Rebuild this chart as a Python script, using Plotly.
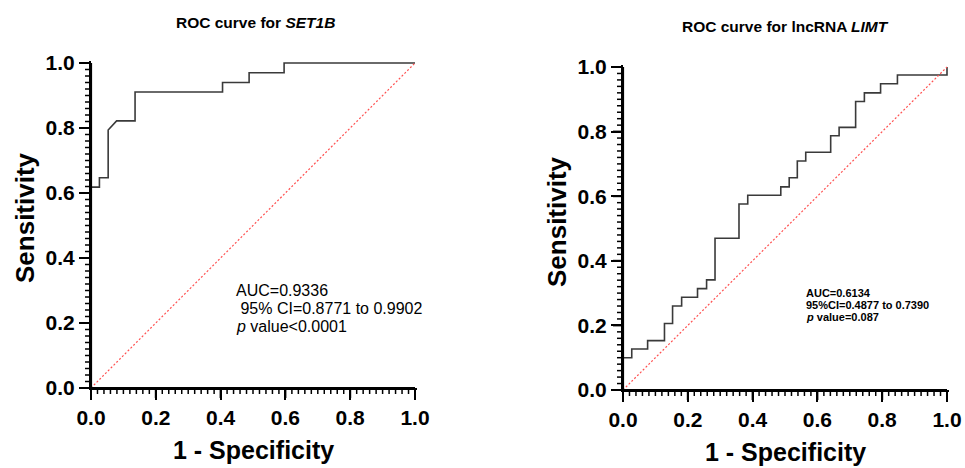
import plotly.graph_objects as go

# ---- data ----
set1b_fpr = [0, 0, 0.026, 0.026, 0.053, 0.053, 0.079, 0.136, 0.136, 0.406, 0.406, 0.488, 0.488, 0.596, 0.596, 1.0]
set1b_sens = [0, 0.618, 0.618, 0.647, 0.647, 0.794, 0.822, 0.822, 0.911, 0.911, 0.940, 0.940, 0.970, 0.970, 1.0, 1.0]

limt_step_fpr = [0, 0.027, 0.076, 0.128, 0.153, 0.181, 0.230, 0.258, 0.284, 0.358, 0.385, 0.487, 0.513,
                 0.538, 0.564, 0.641, 0.667, 0.718, 0.745, 0.795, 0.847, 1.0]
limt_step_sens = [0.100, 0.127, 0.153, 0.206, 0.260, 0.287, 0.314, 0.341, 0.470, 0.576, 0.603, 0.629, 0.657,
                  0.709, 0.736, 0.787, 0.813, 0.893, 0.920, 0.948, 0.975, 1.0]

ref_line = [0, 1]
tick_vals = [0, 0.2, 0.4, 0.6, 0.8, 1.0]
tick_text = ["0.0", "0.2", "0.4", "0.6", "0.8", "1.0"]
minor_step = 0.02

titles = ["ROC curve for <i>SET1B</i>", "ROC curve for lncRNA <i>LIMT</i>"]
left_stats = ["AUC=0.9336", " 95% CI=0.8771 to 0.9902", "<i>p</i> value<0.0001"]
right_stats = ["<b>AUC=0.6134</b>", "<b>95%CI=0.4877 to 0.7390</b>", "<b><i>p</i> value=0.087</b>"]

W, H = 965, 468
FONT = "Liberation Sans"
RANGE = [0, 1.006]


def px(x):
    return x / W


def py(y):
    return 1 - y / H


def frac(v):
    # position of an axis value as a fraction of the axis domain
    return (v - RANGE[0]) / (RANGE[1] - RANGE[0])


minor_vals = [round(i * minor_step, 4) for i in range(int(round(1 / minor_step)) + 1)]
minor_vals = [v for v in minor_vals if all(abs(v - t) > 1e-9 for t in tick_vals)]

fig = go.Figure()

diag_style = dict(color="#ff5050", width=1.2, dash="2px,2px")

# left panel
fig.add_trace(go.Scatter(x=set1b_fpr, y=set1b_sens, mode="lines",
                         line=dict(color="#3a3a3a", width=1.6), xaxis="x", yaxis="y", showlegend=False))
fig.add_trace(go.Scatter(x=ref_line, y=ref_line, mode="lines", line=diag_style,
                         xaxis="x", yaxis="y", showlegend=False))
# right panel
fig.add_trace(go.Scatter(x=[0] + limt_step_fpr, y=[0] + limt_step_sens, mode="lines",
                         line=dict(color="#3a3a3a", width=1.6, shape="hv"),
                         xaxis="x2", yaxis="y2", showlegend=False))
fig.add_trace(go.Scatter(x=ref_line, y=ref_line, mode="lines", line=diag_style,
                         xaxis="x2", yaxis="y2", showlegend=False))

ax_major = dict(
    range=RANGE, tickmode="array", tickvals=tick_vals, ticktext=tick_text,
    showline=True, linecolor="black", linewidth=2, showgrid=False, zeroline=False,
    ticks="outside", ticklen=10, tickwidth=2, tickcolor="black",
    tickfont=dict(family=FONT, size=21, color="black", weight="bold"),
    fixedrange=True,
)

# domains from pixel positions
lx0, lx1 = 91, 91 + 324 * RANGE[1]
ly0, ly1 = 388, 388 - 325 * RANGE[1]
rx0, rx1 = 623, 623 + 324 * RANGE[1]
ry0, ry1 = 390, 390 - 323 * RANGE[1]

fig.update_layout(
    width=W, height=H, margin=dict(l=0, r=0, t=0, b=0, autoexpand=False),
    paper_bgcolor="white", plot_bgcolor="white",
    xaxis=dict(domain=[px(lx0), px(lx1)], anchor="y", **ax_major),
    yaxis=dict(domain=[py(ly0), py(ly1)], anchor="x", **ax_major),
    xaxis2=dict(domain=[px(rx0), px(rx1)], anchor="y2", **ax_major),
    yaxis2=dict(domain=[py(ry0), py(ry1)], anchor="x2", **ax_major),
    showlegend=False,
)

# axis lines and tick marks drawn as shapes on each subplot's domain
shapes = []
for xa, ya in [("x", "y"), ("x2", "y2")]:
    xd, yd = xa + " domain", ya + " domain"
    # axis lines
    shapes.append(dict(type="line", xref=xd, yref=yd, x0=frac(0), x1=frac(1), y0=0, y1=0,
                       line=dict(color="black", width=2.2), layer="above"))
    shapes.append(dict(type="line", xref=xd, yref=yd, x0=0, x1=0, y0=frac(0), y1=frac(1),
                       line=dict(color="black", width=2.2), layer="above"))
    for vals, length, width in [(tick_vals, 10, 2), (minor_vals, 6, 1.5)]:
        for v in vals:
            # x-axis tick (pointing down)
            shapes.append(dict(type="line", xref=xd, yref=yd, x0=frac(v), x1=frac(v),
                               ysizemode="pixel", yanchor=0, y0=0, y1=-length,
                               line=dict(color="black", width=width), layer="above"))
            # y-axis tick (pointing left)
            shapes.append(dict(type="line", xref=xd, yref=yd, y0=frac(v), y1=frac(v),
                               xsizemode="pixel", xanchor=0, x0=0, x1=-length,
                               line=dict(color="black", width=width), layer="above"))
fig.update_layout(shapes=shapes)

ann = []
# titles
ann.append(dict(x=px(255), y=py(22), text="<b>" + titles[0] + "</b>", showarrow=False,
                xanchor="center", yanchor="middle", font=dict(family=FONT, size=15.5, color="black")))
ann.append(dict(x=px(785), y=py(26), text="<b>" + titles[1] + "</b>", showarrow=False,
                xanchor="center", yanchor="middle", font=dict(family=FONT, size=15.5, color="black")))
# axis titles
for cx, cy in [(253, 450), (785, 452)]:
    ann.append(dict(x=px(cx), y=py(cy), text="<b>1 - Specificity</b>", showarrow=False,
                    xanchor="center", yanchor="middle", font=dict(family=FONT, size=25, color="black")))
for cx, cy in [(25, 218), (557, 222)]:
    ann.append(dict(x=px(cx), y=py(cy), text="<b>Sensitivity</b>", showarrow=False, textangle=-90,
                    xanchor="center", yanchor="middle", font=dict(family=FONT, size=26, color="black")))
# stats text
for t, yy in zip(left_stats, [290, 308, 326]):
    ann.append(dict(x=px(234), y=py(yy), text=t, showarrow=False, xanchor="left", yanchor="middle",
                    font=dict(family=FONT, size=16, color="black")))
for t, yy in zip(right_stats, [293, 305, 317]):
    ann.append(dict(x=px(804), y=py(yy), text=t, showarrow=False, xanchor="left", yanchor="middle",
                    font=dict(family=FONT, size=11, color="black")))

for a in ann:
    a["xref"] = "paper"
    a["yref"] = "paper"
fig.update_layout(annotations=ann)

fig.write_html("out.html")
